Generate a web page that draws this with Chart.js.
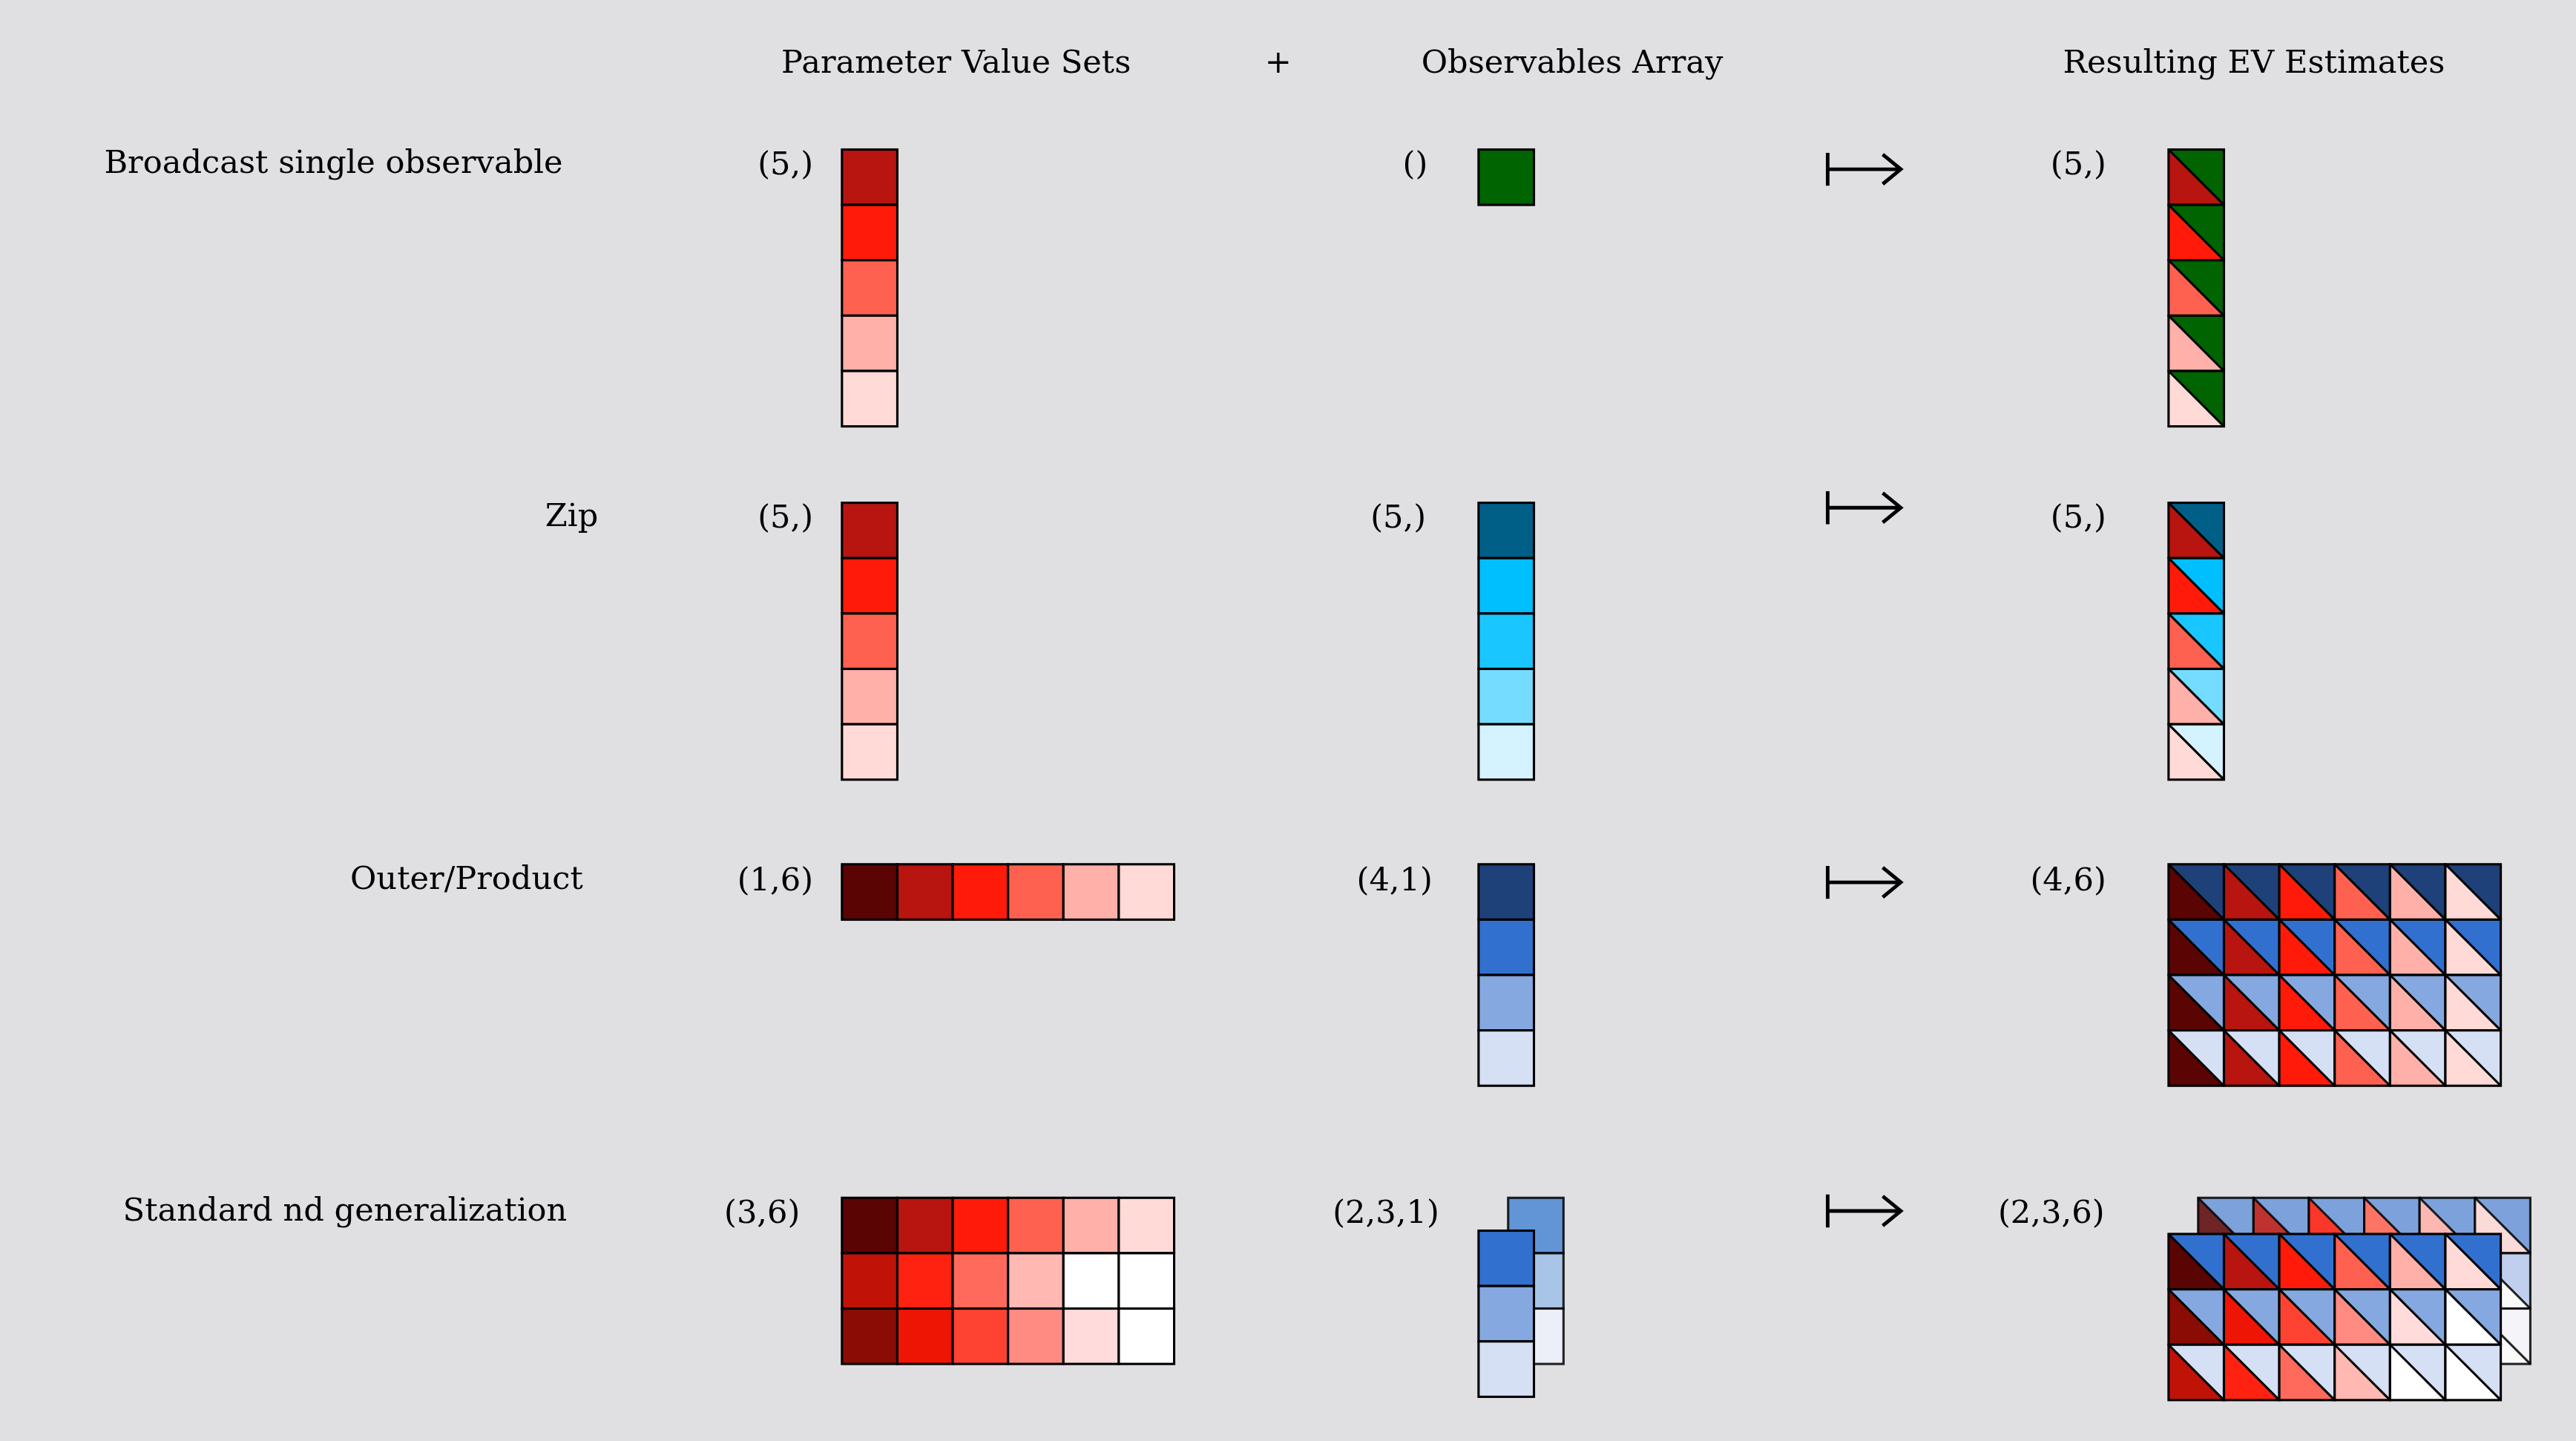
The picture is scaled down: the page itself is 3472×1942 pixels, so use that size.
<!DOCTYPE html>
<html>
<head>
<meta charset="utf-8">
<script src="https://cdn.jsdelivr.net/npm/chart.js@4.4.0/dist/chart.umd.min.js"></script>
<style>
  html, body { margin: 0; padding: 0; background: #e0dfe2; }
  #wrap { width: 3472px; height: 1942px; }
</style>
</head>
<body>
<div id="wrap"><canvas id="c"></canvas></div>
<script>
// --- data ---
const headers = ['Parameter Value Sets', '+', 'Observables Array', 'Resulting EV Estimates'];
const rowTitles = ['Broadcast single observable', 'Zip', 'Outer/Product', 'Standard nd generalization'];
const paramShapes = ['(5,)', '(5,)', '(1,6)', '(3,6)'];
const obsShapes = ['()', '(5,)', '(4,1)', '(2,3,1)'];
const resultShapes = ['(5,)', '(5,)', '(4,6)', '(2,3,6)'];

const reds5 = ['#b81410', '#ff1a0a', '#ff6150', '#ffb0a8', '#ffdad6'];
const reds6 = ['#5a0404', '#b81410', '#ff1a0a', '#ff6150', '#ffb0a8', '#ffdad6'];
const redsGrid = [
  ['#5a0404', '#b81410', '#ff1a0a', '#ff6150', '#ffb0a8', '#ffdad6'],
  ['#c11208', '#ff2210', '#ff6a5c', '#ffb8b2', '#ffffff', '#ffffff'],
  ['#8b0c04', '#ee1505', '#ff4333', '#ff8b82', '#ffdbdb', '#ffffff']
];
const obsGreen = ['#006400'];
const obsZip = ['#005f87', '#00bfff', '#1ac6ff', '#75dcff', '#d4f2ff'];
const obsOuter = ['#1f417a', '#3270d0', '#85a8e0', '#d5e0f5'];
const obsNdFront = ['#3270d0', '#85a8e0', '#d5e0f5'];
const obsNdBack = ['#4a88d4', '#9dbfe6', '#eef2fb'];
const resNdBack = ['#6b98d9', '#b8cdee', '#f8f8fc'];
// front layer of the nd result uses param rows in this order
const ndFrontRows = [0, 2, 1];

const S = 33.7; // cell size in reference units
const RED = '#000';

// cell lists: {x, y, c, c2?} in reference units
function column(x, y, colors) { return colors.map((c, i) => ({ x, y: y + i * S, c })); }
function row(x, y, colors) { return colors.map((c, i) => ({ x: x + i * S, y, c })); }

const frontCells = [];
const backCells = [];
// row 1
frontCells.push(...column(512.5, 91, reds5));
frontCells.push(...column(900, 91, obsGreen));
reds5.forEach((c, i) => frontCells.push({ x: 1320, y: 91 + i * S, c, c2: obsGreen[0] }));
// row 2
frontCells.push(...column(512.5, 306, reds5));
frontCells.push(...column(900, 306, obsZip));
reds5.forEach((c, i) => frontCells.push({ x: 1320, y: 306 + i * S, c, c2: obsZip[i] }));
// row 3
frontCells.push(...row(512.5, 526, reds6));
frontCells.push(...column(900, 526, obsOuter));
obsOuter.forEach((o, i) => reds6.forEach((c, j) => frontCells.push({ x: 1320 + j * S, y: 526 + i * S, c, c2: o })));
// row 4
redsGrid.forEach((r, i) => frontCells.push(...row(512.5, 729 + i * S, r)));
backCells.push(...column(918, 729, obsNdBack));
frontCells.push(...column(900, 749, obsNdFront));
resNdBack.forEach((o, i) => redsGrid[i].forEach((c, j) => backCells.push({ x: 1338 + j * S, y: 729 + i * S, c: i === 0 ? c : '#ffffff', c2: o })));
obsNdFront.forEach((o, i) => redsGrid[ndFrontRows[i]].forEach((c, j) => frontCells.push({ x: 1320 + j * S, y: 751 + i * S, c, c2: o })));

const arrowsY = [103, 309, 537, 737];
const rowY = [101, 316, 537, 739];

const drawPlugin = {
  id: 'diagram',
  afterDatasetsDraw(chart) {
    const { ctx, scales } = chart;
    const X = v => scales.x.getPixelForValue(v);
    const Y = v => scales.y.getPixelForValue(v);
    const k = X(1) - X(0);
    const font = n => `${n * k}px "DejaVu Serif", "Liberation Serif", serif`;

    function cell(d, alpha) {
      ctx.save();
      ctx.globalAlpha = alpha;
      const x0 = X(d.x), y0 = Y(d.y), x1 = X(d.x + S), y1 = Y(d.y + S);
      if (d.c2) {
        ctx.fillStyle = d.c;
        ctx.beginPath(); ctx.moveTo(x0, y0); ctx.lineTo(x1, y1); ctx.lineTo(x0, y1); ctx.closePath(); ctx.fill();
        ctx.fillStyle = d.c2;
        ctx.beginPath(); ctx.moveTo(x0, y0); ctx.lineTo(x1, y0); ctx.lineTo(x1, y1); ctx.closePath(); ctx.fill();
      } else {
        ctx.fillStyle = d.c;
        ctx.fillRect(x0, y0, x1 - x0, y1 - y0);
      }
      ctx.strokeStyle = RED;
      ctx.lineWidth = 1.4 * k;
      ctx.strokeRect(x0, y0, x1 - x0, y1 - y0);
      if (d.c2) {
        ctx.beginPath(); ctx.moveTo(x0, y0); ctx.lineTo(x1, y1); ctx.stroke();
      }
      ctx.restore();
    }
    backCells.forEach(d => cell(d, 0.85));
    frontCells.forEach(d => cell(d, 1));

    // texts
    ctx.fillStyle = '#000';
    ctx.textBaseline = 'middle';
    ctx.font = font(19.5);
    ctx.textAlign = 'center';
    [582, 778, 957, 1372].forEach((x, i) => ctx.fillText(headers[i], X(x), Y(39)));
    [203, 348, 284, 210].forEach((x, i) => ctx.fillText(rowTitles[i], X(x), Y(rowY[i] - 1)));
    ctx.textAlign = 'right';
    [495, 495, 495, 487].forEach((x, i) => ctx.fillText(paramShapes[i], X(x), Y(rowY[i])));
    [869, 868, 872, 876].forEach((x, i) => ctx.fillText(obsShapes[i], X(x), Y(rowY[i])));
    [1282, 1282, 1282, 1281].forEach((x, i) => ctx.fillText(resultShapes[i], X(x), Y(rowY[i])));

    // maps-to arrows
    ctx.strokeStyle = '#000';
    ctx.lineWidth = 2.2 * k;
    arrowsY.forEach(y => {
      ctx.beginPath();
      ctx.moveTo(X(1112.5), Y(y - 10)); ctx.lineTo(X(1112.5), Y(y + 10));
      ctx.moveTo(X(1112.5), Y(y)); ctx.lineTo(X(1156), Y(y));
      ctx.moveTo(X(1146), Y(y - 9)); ctx.lineTo(X(1157), Y(y)); ctx.lineTo(X(1146), Y(y + 9));
      ctx.stroke();
    });
  }
};

new Chart(document.getElementById('c'), {
  type: 'scatter',
  data: { datasets: [{ data: [], pointRadius: 0 }] },
  options: {
    responsive: true,
    maintainAspectRatio: false,
    animation: false,
    layout: { padding: 0 },
    plugins: { legend: { display: false }, tooltip: { enabled: false } },
    scales: {
      x: { type: 'linear', min: 0, max: 1568, display: false },
      y: { type: 'linear', min: 0, max: 877, reverse: true, display: false }
    }
  },
  plugins: [drawPlugin]
});
</script>
</body>
</html>
